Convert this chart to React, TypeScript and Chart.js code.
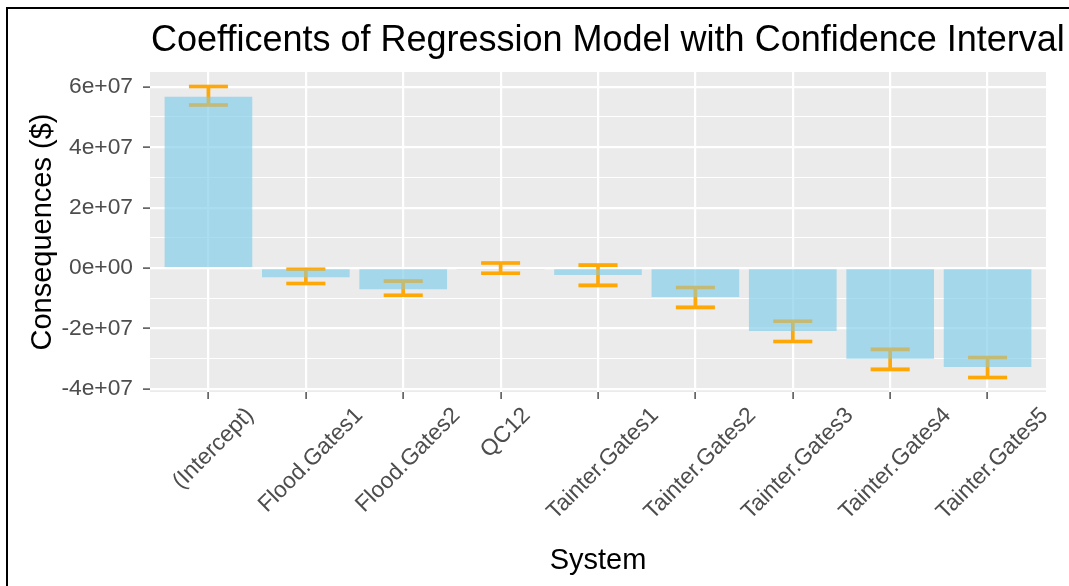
import { useEffect, useRef } from 'react';
import { Chart, registerables } from 'chart.js';

Chart.register(...registerables);

const categories = [
  '(Intercept)',
  'Flood.Gates1',
  'Flood.Gates2',
  'QC12',
  'Tainter.Gates1',
  'Tainter.Gates2',
  'Tainter.Gates3',
  'Tainter.Gates4',
  'Tainter.Gates5',
];
const estimates = [5.67e7, -3.0e6, -7.0e6, -0.3e6, -2.3e6, -9.6e6, -2.08e7, -3.0e7, -3.27e7];
const ciLower = [5.4e7, -5.1e6, -9.0e6, -1.7e6, -5.7e6, -1.3e7, -2.43e7, -3.35e7, -3.62e7];
const ciUpper = [6.01e7, -0.4e6, -4.3e6, 1.7e6, 1.0e6, -6.4e6, -1.76e7, -2.69e7, -2.96e7];

const yGridValues = [-4e7, -3e7, -2e7, -1e7, 0, 1e7, 2e7, 3e7, 4e7, 5e7, 6e7];
const yTickValues = [-4e7, -2e7, 0, 2e7, 4e7, 6e7];
const yTickLabels = ['-4e+07', '-2e+07', '0e+00', '2e+07', '4e+07', '6e+07'];

const titleText = 'Coefficents of Regression Model with Confidence Interval';
const xTitle = 'System';
const yTitle = 'Consequences ($)';

const FONT = "'Liberation Sans', Arial, Helvetica, sans-serif";

export default function App() {
  const ref = useRef<HTMLCanvasElement>(null);

  useEffect(() => {
    const canvas = ref.current;
    if (!canvas) return;

    const majorIndex = (v: number) => yTickValues.findIndex((t) => Math.abs(t - v) < 1);

    const drawErrorBars = (chart: any, alpha: number) => {
      const xs = chart.scales.x;
      const ys = chart.scales.y;
      const ctx = chart.ctx;
      ctx.save();
      ctx.strokeStyle = `rgba(255,165,0,${alpha})`;
      ctx.lineWidth = 3.6;
      ctx.lineCap = 'butt';
      const half = xs.getPixelForValue(0.2) - xs.getPixelForValue(0);
      categories.forEach((_, i) => {
        const cx = xs.getPixelForValue(i);
        const yl = ys.getPixelForValue(ciLower[i]);
        const yu = ys.getPixelForValue(ciUpper[i]);
        ctx.beginPath();
        ctx.moveTo(cx - half, yu);
        ctx.lineTo(cx + half, yu);
        ctx.moveTo(cx, yu);
        ctx.lineTo(cx, yl);
        ctx.moveTo(cx - half, yl);
        ctx.lineTo(cx + half, yl);
        ctx.stroke();
      });
      ctx.restore();
    };

    const ggPlugin = {
      id: 'ggStyle',
      beforeDraw(chart: any) {
        const { ctx, chartArea } = chart;
        ctx.save();
        ctx.fillStyle = '#EBEBEB';
        ctx.fillRect(chartArea.left, chartArea.top, chartArea.right - chartArea.left, chartArea.bottom - chartArea.top);
        ctx.restore();
      },
      beforeDatasetsDraw(chart: any) {
        drawErrorBars(chart, 0.95);
      },
      afterDatasetsDraw(chart: any) {
        drawErrorBars(chart, 0.3);
      },
      afterDraw(chart: any) {
        const { ctx, chartArea } = chart;
        const xs = chart.scales.x;
        ctx.save();
        // main title
        ctx.fillStyle = '#000000';
        ctx.font = `36px ${FONT}`;
        ctx.textAlign = 'left';
        ctx.textBaseline = 'alphabetic';
        ctx.fillText(titleText, chartArea.left + 1, 51);
        // x axis title
        ctx.font = `29px ${FONT}`;
        ctx.textAlign = 'center';
        ctx.fillText(xTitle, (chartArea.left + chartArea.right) / 2, 569);
        // y axis title
        ctx.save();
        ctx.translate(51, (chartArea.top + chartArea.bottom) / 2);
        ctx.rotate(-Math.PI / 2);
        ctx.textAlign = 'center';
        ctx.textBaseline = 'alphabetic';
        ctx.fillText(yTitle, 0, 0);
        ctx.restore();
        // x tick labels: rotated 45deg, rotated box centred on tick and top-aligned below axis
        ctx.fillStyle = '#4D4D4D';
        const fs = 22.8;
        ctx.font = `${fs}px ${FONT}`;
        const labelTop = chartArea.bottom + 13;
        categories.forEach((label, i) => {
          const px = xs.getPixelForValue(i);
          const w = ctx.measureText(label).width;
          const boxH = (w + fs * 0.85) * Math.SQRT1_2;
          ctx.save();
          ctx.translate(px + 5, labelTop + boxH / 2);
          ctx.rotate(-Math.PI / 4);
          ctx.textAlign = 'center';
          ctx.textBaseline = 'middle';
          ctx.fillText(label, 0, 0);
          ctx.restore();
        });
        ctx.restore();
      },
    };

    const chart = new Chart(canvas, {
      type: 'bar',
      data: {
        datasets: [
          {
            data: categories.map((_, i) => ({ x: i, y: estimates[i] })),
            backgroundColor: 'rgba(135,206,235,0.7)',
            borderWidth: 0,
            categoryPercentage: 1,
            barPercentage: 0.9,
          },
        ],
      },
      options: {
        responsive: false,
        animation: false,
        layout: { padding: { top: 72, right: 23, left: 0, bottom: 0 } },
        plugins: {
          legend: { display: false },
          tooltip: { enabled: false },
          title: { display: false },
        },
        scales: {
          x: {
            type: 'linear',
            offset: false,
            min: -0.6,
            max: 8.6,
            afterBuildTicks: (s: any) => {
              s.ticks = categories.map((_, i) => ({ value: i }));
            },
            afterFit: (s: any) => {
              s.height = 194;
            },
            ticks: { display: false, autoSkip: false },
            grid: {
              offset: false,
              color: '#FFFFFF',
              lineWidth: 2.2,
              tickColor: '#333333',
              tickLength: 7,
              tickWidth: 1.3,
            },
            border: { display: false },
          },
          y: {
            type: 'linear',
            min: -4.1e7,
            max: 6.49e7,
            afterBuildTicks: (s: any) => {
              s.ticks = yGridValues.map((v) => ({ value: v }));
            },
            afterFit: (s: any) => {
              s.width = 150;
            },
            ticks: {
              autoSkip: false,
              padding: 10,
              color: '#4D4D4D',
              font: { family: FONT, size: 22.8 },
              callback: (v: any) => {
                const k = majorIndex(Number(v));
                return k >= 0 ? yTickLabels[k] : '';
              },
            },
            grid: {
              color: '#FFFFFF',
              lineWidth: (c: any) => (c.tick && majorIndex(c.tick.value) >= 0 ? 2.2 : 1.1),
              tickColor: (c: any) => (c.tick && majorIndex(c.tick.value) >= 0 ? '#333333' : 'rgba(0,0,0,0)'),
              tickLength: 7,
              tickWidth: 1.3,
            },
            border: { display: false },
          },
        },
      },
      plugins: [ggPlugin],
    } as any);

    return () => chart.destroy();
  }, []);

  return (
    <div style={{ position: 'absolute', left: 0, top: 0, width: 1069, height: 586, background: '#fff', overflow: 'hidden' }}>
      <canvas ref={ref} width={1069} height={586} style={{ display: 'block' }} />
      <div
        style={{
          position: 'absolute',
          left: 6,
          top: 7,
          right: 0,
          bottom: 0,
          borderLeft: '2px solid #000',
          borderTop: '2px solid #000',
          pointerEvents: 'none',
        }}
      />
    </div>
  );
}
